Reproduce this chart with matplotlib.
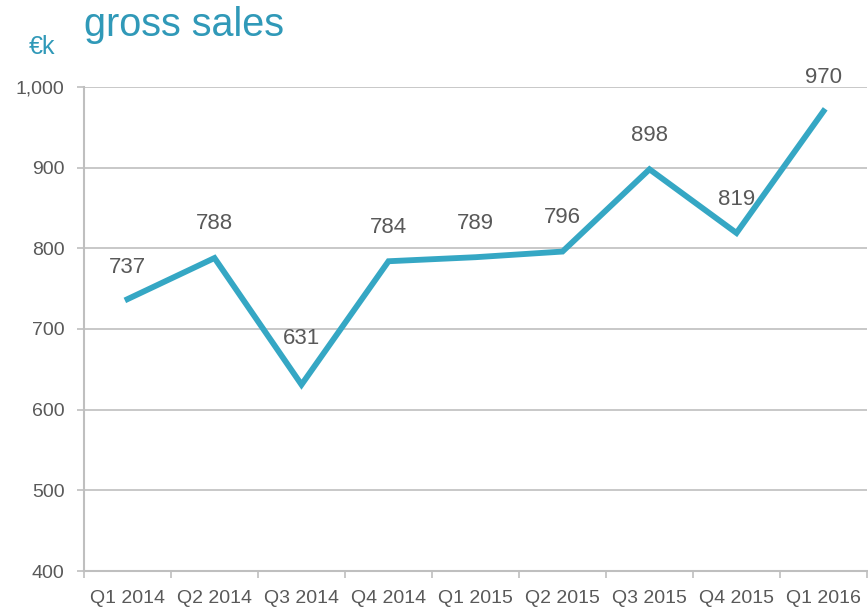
import matplotlib
matplotlib.use("Agg")
import matplotlib.pyplot as plt

categories = ["Q1 2014", "Q2 2014", "Q3 2014", "Q4 2014", "Q1 2015",
              "Q2 2015", "Q3 2015", "Q4 2015", "Q1 2016"]
sales = [737, 788, 631, 784, 789, 796, 898, 819, 970]
yticks = [400, 500, 600, 700, 800, 900, 1000]

plt.rcParams['font.family'] = ['Liberation Sans', 'DejaVu Sans']
line_color = "#35A7C4"
text_gray = "#595959"
grid_gray = "#BFBFBF"

fig = plt.figure(figsize=(8.68, 6.10), dpi=100)
ax = fig.add_axes([84/868, 1 - 571/610, 783/868, (571-87)/610])

x = list(range(len(categories)))
ax.plot(x, sales, color=line_color, lw=4.2, solid_joinstyle='miter', zorder=3)

label_offsets = [32, 35, 46, 34, 34, 34, 34, 34, 34]
for xi, v, off in zip(x, sales, label_offsets):
    ax.annotate(f"{v:,}", (xi, v), xytext=(0, off*0.72), textcoords='offset points',
                ha='center', va='center', fontsize=16, color=text_gray)

ax.set_xlim(-0.5, len(categories) - 0.5)
ax.set_ylim(400, 1000)
ax.set_yticks(yticks)
ax.set_yticklabels([f"{t:,}" for t in yticks])
ax.set_xticks([i - 0.5 for i in range(len(categories) + 1)], minor=False)
ax.set_xticklabels([])
ax.set_xticks(x, minor=True)
ax.set_xticklabels(categories, minor=True)
ax.tick_params(axis='x', which='minor', length=0, pad=14, labelsize=14, labelcolor=text_gray)
ax.tick_params(axis='x', which='major', length=5, color=grid_gray, width=1.2, direction='out')
ax.tick_params(axis='y', length=5, color=grid_gray, width=1.2, labelsize=14, labelcolor=text_gray, pad=9)

ax.grid(axis='y', color=grid_gray, lw=1.2, zorder=0)
ax.set_axisbelow(True)
for s in ['top', 'right']:
    ax.spines[s].set_visible(False)
for s in ['left', 'bottom']:
    ax.spines[s].set_color(grid_gray)
    ax.spines[s].set_linewidth(1.5)

fig.text(84/868, 1 - 25/610, "gross sales", fontsize=28.5, color="#3099B8", ha='left', va='center')
fig.text(42/868, 1 - 47/610, "€k", fontsize=18, color="#3099B8", ha='center', va='center')

fig.savefig("out.png", dpi=100)
